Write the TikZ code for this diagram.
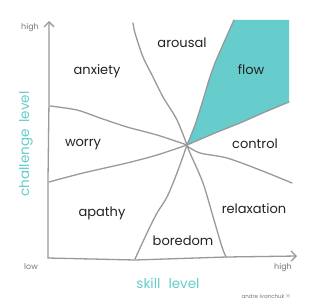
\documentclass[tikz,border=0pt]{standalone}
\usepackage{fontspec}
\setmainfont{Poppins}
\usetikzlibrary{arrows.meta}
\definecolor{teal1}{HTML}{66CCCC}
\definecolor{line1}{HTML}{999999}
\definecolor{txt}{HTML}{222222}
\definecolor{tickc}{HTML}{777777}
\begin{document}
\begin{tikzpicture}[x=1pt,y=-1pt,
  bnd/.style={draw=line1,line width=1.3pt,line join=round,line cap=round},
  axis/.style={draw=line1,line width=1.3pt,line cap=round,line join=round,-{Straight Barb[length=5pt,width=10pt]}},
  region/.style={text=txt,font=\fontsize{13}{15}\selectfont,inner sep=0pt},
  axlab/.style={text=teal1,font=\fontsize{13.5}{15}\selectfont,inner sep=0pt},
  ticklab/.style={text=tickc,font=\fontsize{8}{9}\selectfont,inner sep=0pt},
  credit/.style={text=tickc,font=\fontsize{5.5}{6}\selectfont,inner sep=0pt}]
\useasboundingbox (0,0) rectangle (320,305);
\fill[white] (0,0) rectangle (320,305);
% centre and flow region
\coordinate (c) at (187,145);
\coordinate (ftl) at (234,20);
\coordinate (ftr) at (289,20);
\coordinate (fbr) at (289,102);
\fill[teal1] (c) -- (195,125) -- (203,100) -- (209,80) -- (215,63) -- (225,40) -- (ftl) -- (ftr) -- (fbr) -- cycle;
% boundaries
\draw[bnd] plot[smooth] coordinates {(187,145) (195,125) (203,100) (209,80) (215,63) (225,40) (234,20)};
\draw[bnd] plot[smooth] coordinates {(187,145) (215,133) (240,123) (265,112) (289,102)};
\draw[bnd] plot[smooth] coordinates {(133,23) (135,33) (143,57) (153,77) (163,97) (177,120) (187,145)};
\draw[bnd] plot[smooth] coordinates {(50,106) (77,110) (100,118) (127,127) (157,135) (187,145)};
\draw[bnd] plot[smooth] coordinates {(49,182) (83,173) (127,163) (157,155) (187,145)};
\draw[bnd] plot[smooth] coordinates {(187,145) (177,173) (167,197) (157,213) (147,233) (135,259)};
\draw[bnd] plot[smooth] coordinates {(187,145) (190,153) (203,183) (214,220) (222,247) (226,257)};
\draw[bnd] plot[smooth] coordinates {(187,146) (200,153) (227,158) (260,170) (292,183)};
% axes
\coordinate (o) at (48,258);
\coordinate (ytip) at (49,21);
\coordinate (xtip) at (297,256);
\draw[axis] (o) -- (48,180) -- (49,100) -- (ytip);
\draw[axis] (o) -- (135,260) -- (226,257) -- (xtip);
% region labels
\node[region] (anx) at (97,71) {anxiety};
\node[region] (aro) at (182,43) {arousal};
\node[region] (flw) at (251,70) {flow};
\node[region] (wor) at (83,145) {worry};
\node[region] (ctl) at (255,144) {control};
\node[region] (apa) at (102,213) {apathy};
\node[region] (rel) at (254,209) {relaxation};
\node[region] (bor) at (183,241) {boredom};
% axis labels
\node[axlab,rotate=90] (ylab) at (26,144) {challenge\hspace{0.5em}level};
\node[axlab] (xlab) at (168,283) {skill\hspace{0.6em}level};
\node[ticklab] (yhigh) at (30,28) {high};
\node[ticklab] (low) at (31,267) {low};
\node[ticklab] (xhigh) at (283,268) {high};
\node[credit] (cr) at (266,296) {andre ivanchuk ©};
\end{tikzpicture}
\end{document}
